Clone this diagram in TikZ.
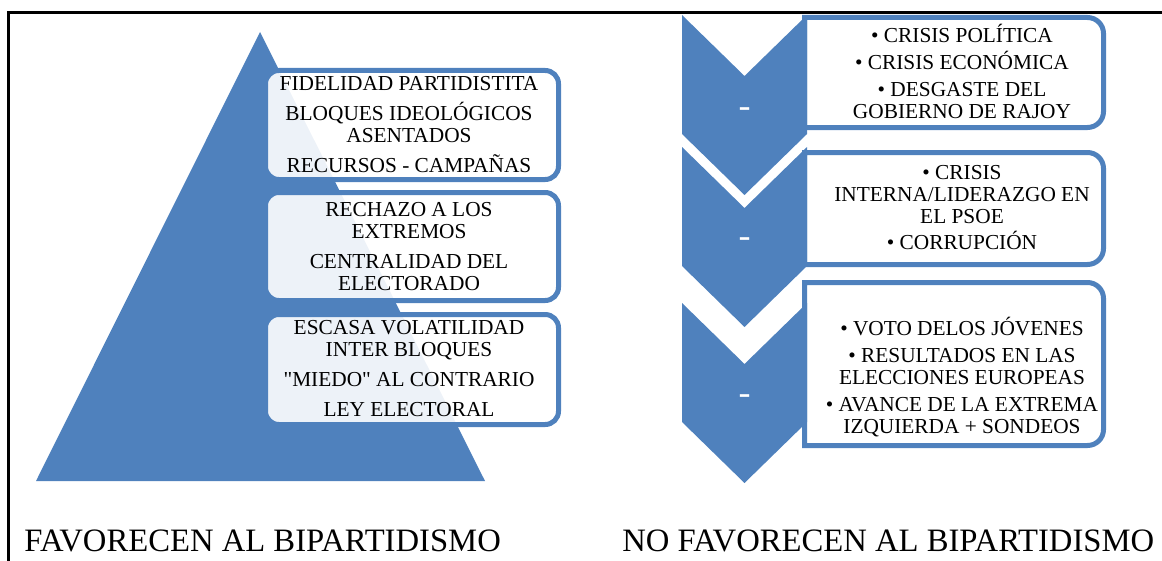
\documentclass[tikz,border=0pt]{standalone}
\usepackage{fontspec}
\setmainfont{Liberation Serif}
\definecolor{smartblue}{HTML}{4F81BD}
\def\chevron(#1){\fill[smartblue] (682,#1) -- (744.5,#1+61) -- (807,#1) -- (807,#1+119) -- (744.5,#1+180) -- (682,#1+119) -- cycle;}
\tikzset{
	leftbox/.style={draw=smartblue, line width=3.75pt, fill=white, fill opacity=0.9, rounded corners=10pt},
	rightbox/.style={draw=smartblue, line width=3.75pt, fill=white},
	boxtext/.style={align=center, font=\fontsize{16}{16.5}\selectfont, inner sep=0pt},
	minustext/.style={text=white, font=\fontsize{27}{27}\selectfont, inner sep=0pt},
	titletext/.style={font=\fontsize{24.5}{28}\selectfont, inner sep=0pt, anchor=base west},
}

\begin{document}
\begin{tikzpicture}[x=0.75pt, y=-0.75pt]
	%%%%% START %%%%%
	\useasboundingbox (0,0) rectangle (1162,560);
	
	% pyramid
	\fill[smartblue] (260,32) -- (485,481) -- (36,481) -- cycle;
	
	\draw[leftbox] (265.5,70.5) rectangle (558.5,179.5);
	\draw[leftbox] (265.5,192.5) rectangle (558.5,300.5);
	\draw[leftbox] (265.5,314.5) rectangle (558.5,424.5);
	
	\node[boxtext] (fav1) at (409,125) {FIDELIDAD PARTIDISTITA\\[6pt]BLOQUES IDEOLÓGICOS\\ASENTADOS\\[6pt]RECURSOS - CAMPAÑAS};
	\node[boxtext] (fav2) at (409,247) {RECHAZO A LOS\\EXTREMOS\\[6pt]CENTRALIDAD DEL\\ELECTORADO};
	\node[boxtext] (fav3) at (409,369) {ESCASA VOLATILIDAD\\INTER BLOQUES\\[6pt]\textquotedbl MIEDO\textquotedbl{} AL CONTRARIO\\[6pt]LEY ELECTORAL};
	
	% chevron list
	\draw[rightbox] (804.5,17.5) [rounded corners=12pt] -- (1103.5,17.5) -- (1103.5,127.5) [sharp corners] -- (804.5,127.5) -- cycle;
	\draw[rightbox] (804.5,152.5) [rounded corners=12pt] -- (1103.5,152.5) -- (1103.5,264.5) [sharp corners] -- (804.5,264.5) -- cycle;
	\draw[rightbox] (804.5,282.5) [rounded corners=12pt] -- (1103.5,282.5) -- (1103.5,445.5) [sharp corners] -- (804.5,445.5) -- cycle;
	
	\chevron(15)
	\chevron(147)
	\chevron(303)
	
	\node[minustext] (minus1) at (744.5,113) {-};
	\node[minustext] (minus2) at (744.5,243) {-};
	\node[minustext] (minus3) at (744.5,400) {-};
	
	\node[boxtext] (nofav1) at (962,71.5) {• CRISIS POLÍTICA\\[3.5pt]• CRISIS ECONÓMICA\\[3.5pt]• DESGASTE DEL\\GOBIERNO DE RAJOY};
	\node[boxtext] (nofav2) at (962,208) {• CRISIS\\INTERNA/LIDERAZGO EN\\EL PSOE\\[3pt]• CORRUPCIÓN};
	\node[boxtext] (nofav3) at (962,377) {• VOTO DELOS JÓVENES\\[3.5pt]• RESULTADOS EN LAS\\ELECCIONES EUROPEAS\\[3.5pt]• AVANCE DE LA EXTREMA\\IZQUIERDA + SONDEOS};
	
	% captions
	\node[titletext] (favtitle) at (24,551) {FAVORECEN AL BIPARTIDISMO};
	\node[titletext] (nofavtitle) at (622,551) {NO FAVORECEN AL BIPARTIDISMO};
	
	\draw[line width=2.25pt] (8.4,570) -- (8.4,12.7) -- (1170,12.7);
	%%%%% END %%%%%
\end{tikzpicture}
\end{document}
